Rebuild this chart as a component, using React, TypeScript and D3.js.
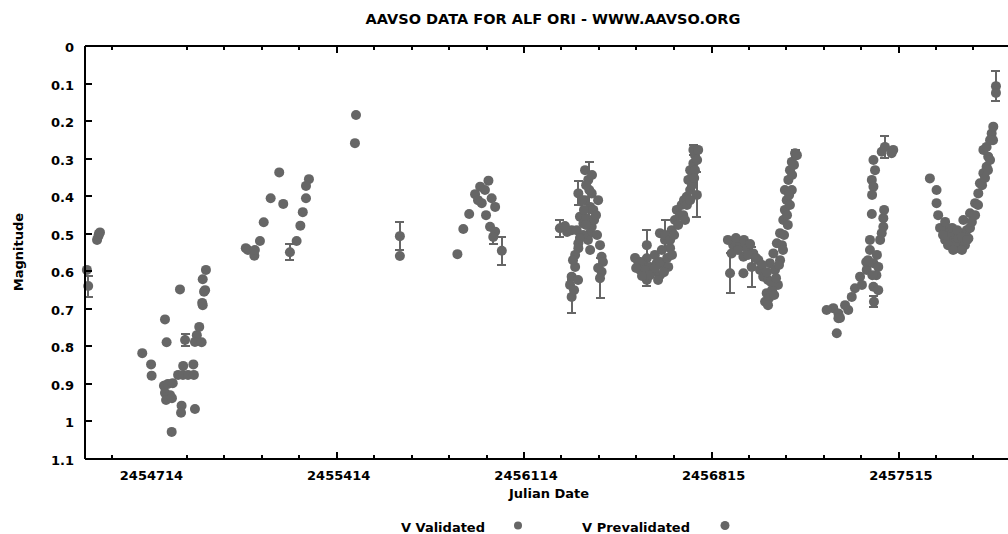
import React from "react";
import * as d3 from "d3";

const W = 1008;
const H = 534;

const titleText = "AAVSO DATA FOR ALF ORI - WWW.AAVSO.ORG";
const xLabel = "Julian Date";
const yLabel = "Magnitude";
const legendLabels = ["V Validated", "V Prevalidated"];

const xDomain = [2454473, 2457923];
const yDomain = [0, 1.1];
const xMajorTicks = [2454714, 2455414, 2456114, 2456815, 2457515];
const xMinorTicks = [
  2454574, 2454854, 2454994, 2455134, 2455274, 2455554, 2455694, 2455834, 2455974,
  2456254, 2456394, 2456534, 2456674, 2456954, 2457094, 2457234, 2457374, 2457654, 2457794,
];
const yTicks = [0, 0.1, 0.2, 0.3, 0.4, 0.5, 0.6, 0.7, 0.8, 0.9, 1, 1.1];

// [JD, magnitude, error]
const validated: [number, number, number][] = [
  [2454480, 0.597, 0], [2454485, 0.64, 0.028], [2454518, 0.517, 0], [2454523, 0.507, 0],
  [2454525, 0.501, 0], [2454529, 0.497, 0],
  [2454687, 0.819, 0], [2454720, 0.849, 0], [2454722, 0.879, 0], [2454772, 0.729, 0],
  [2454778, 0.79, 0], [2454768, 0.906, 0], [2454783, 0.901, 0], [2454801, 0.899, 0],
  [2454772, 0.925, 0], [2454791, 0.931, 0], [2454776, 0.944, 0], [2454798, 0.939, 0],
  [2454797, 1.029, 0], [2454828, 0.649, 0], [2454834, 0.959, 0], [2454832, 0.978, 0],
  [2454847, 0.784, 0.016], [2454840, 0.853, 0], [2454821, 0.877, 0], [2454839, 0.877, 0],
  [2454858, 0.877, 0], [2454880, 0.877, 0], [2454878, 0.849, 0], [2454884, 0.968, 0],
  [2454891, 0.771, 0], [2454884, 0.789, 0], [2454909, 0.79, 0], [2454900, 0.749, 0],
  [2454913, 0.691, 0], [2454911, 0.685, 0], [2454918, 0.655, 0], [2454922, 0.651, 0],
  [2454913, 0.622, 0], [2454925, 0.597, 0],
  [2455074, 0.539, 0], [2455082, 0.544, 0], [2455106, 0.559, 0], [2455108, 0.544, 0],
  [2455127, 0.52, 0], [2455141, 0.47, 0], [2455167, 0.406, 0], [2455199, 0.337, 0],
  [2455214, 0.421, 0], [2455239, 0.55, 0.021], [2455264, 0.52, 0], [2455278, 0.479, 0],
  [2455287, 0.443, 0], [2455299, 0.406, 0], [2455299, 0.373, 0], [2455310, 0.355, 0],
  [2455486, 0.184, 0], [2455482, 0.259, 0], [2455650, 0.507, 0.038], [2455650, 0.56, 0],
  [2455865, 0.555, 0], [2455887, 0.488, 0], [2455909, 0.448, 0], [2455931, 0.395, 0],
  [2455950, 0.375, 0], [2455981, 0.359, 0], [2455956, 0.419, 0], [2455993, 0.406, 0],
  [2456006, 0.429, 0], [2455972, 0.451, 0], [2455987, 0.482, 0], [2456006, 0.495, 0],
  [2455999, 0.509, 0.02], [2456031, 0.546, 0.038], [2455968, 0.384, 0], [2455942, 0.411, 0],
  [2456248, 0.486, 0.022], [2456292, 0.491, 0], [2456311, 0.491, 0], [2456323, 0.455, 0],
  [2456336, 0.473, 0], [2456317, 0.393, 0.032], [2456354, 0.357, 0], [2456367, 0.393, 0],
  [2456361, 0.429, 0], [2456373, 0.437, 0], [2456348, 0.459, 0], [2456367, 0.482, 0],
  [2456361, 0.499, 0], [2456317, 0.526, 0], [2456317, 0.539, 0], [2456305, 0.589, 0],
  [2456292, 0.615, 0], [2456286, 0.637, 0], [2456292, 0.669, 0.044], [2456398, 0.531, 0],
  [2456404, 0.562, 0], [2456404, 0.602, 0], [2456398, 0.619, 0.053], [2456358, 0.384, 0.075],
  [2456342, 0.411, 0], [2456353, 0.517, 0], [2456335, 0.504, 0], [2456361, 0.544, 0],
  [2456376, 0.464, 0], [2456346, 0.371, 0],
  [2456331, 0.411, 0], [2456338, 0.437, 0], [2456346, 0.477, 0], [2456323, 0.512, 0],
  [2456305, 0.557, 0], [2456297, 0.571, 0], [2456383, 0.451, 0], [2456387, 0.504, 0],
  [2456391, 0.411, 0], [2456342, 0.331, 0], [2456368, 0.344, 0], [2456409, 0.576, 0],
  [2456391, 0.592, 0], [2456316, 0.624, 0], [2456301, 0.651, 0], [2456275, 0.496, 0],
  [2456267, 0.48, 0],
  [2456541, 0.575, 0], [2456573, 0.566, 0], [2456560, 0.584, 0], [2456585, 0.589, 0],
  [2456610, 0.579, 0], [2456635, 0.584, 0], [2456653, 0.589, 0], [2456597, 0.602, 0],
  [2456573, 0.624, 0.015], [2456622, 0.499, 0], [2456641, 0.517, 0], [2456660, 0.539, 0],
  [2456666, 0.491, 0], [2456678, 0.464, 0], [2456685, 0.437, 0], [2456703, 0.424, 0],
  [2456722, 0.402, 0], [2456735, 0.384, 0], [2456728, 0.357, 0], [2456735, 0.331, 0],
  [2456747, 0.313, 0], [2456753, 0.291, 0], [2456747, 0.277, 0.013], [2456760, 0.397, 0.06],
  [2456573, 0.531, 0.04], [2456641, 0.504, 0.04], [2456603, 0.557, 0], [2456629, 0.544, 0],
  [2456697, 0.451, 0], [2456712, 0.411, 0], [2456743, 0.344, 0], [2456548, 0.597, 0],
  [2456622, 0.611, 0],
  [2456529, 0.565, 0], [2456548, 0.576, 0], [2456566, 0.597, 0], [2456585, 0.611, 0],
  [2456604, 0.592, 0], [2456622, 0.576, 0], [2456649, 0.565, 0], [2456667, 0.557, 0],
  [2456533, 0.592, 0], [2456555, 0.613, 0], [2456615, 0.624, 0], [2456637, 0.603, 0],
  [2456660, 0.517, 0], [2456675, 0.504, 0], [2456690, 0.477, 0], [2456709, 0.451, 0],
  [2456723, 0.424, 0], [2456742, 0.371, 0], [2456753, 0.331, 0], [2456761, 0.304, 0],
  [2456765, 0.277, 0], [2456735, 0.411, 0], [2456716, 0.464, 0], [2456750, 0.352, 0],
  [2456896, 0.531, 0], [2456921, 0.526, 0], [2456946, 0.539, 0], [2456890, 0.553, 0],
  [2456934, 0.562, 0], [2456971, 0.553, 0], [2456884, 0.606, 0.053], [2456934, 0.606, 0],
  [2456965, 0.589, 0.053], [2456990, 0.571, 0], [2457008, 0.615, 0], [2457021, 0.659, 0],
  [2457015, 0.682, 0], [2457033, 0.579, 0], [2457046, 0.553, 0], [2457059, 0.526, 0],
  [2457071, 0.499, 0], [2457083, 0.464, 0], [2457089, 0.437, 0], [2457096, 0.411, 0],
  [2457089, 0.384, 0], [2457102, 0.357, 0], [2457108, 0.331, 0], [2457115, 0.309, 0],
  [2457127, 0.286, 0.01], [2456996, 0.597, 0], [2457026, 0.624, 0], [2457052, 0.597, 0],
  [2457063, 0.637, 0], [2457041, 0.651, 0], [2457071, 0.571, 0], [2457078, 0.531, 0],
  [2457100, 0.477, 0], [2457108, 0.424, 0], [2457115, 0.384, 0], [2457030, 0.672, 0],
  [2456876, 0.517, 0], [2456906, 0.512, 0], [2456936, 0.517, 0], [2456959, 0.528, 0],
  [2456914, 0.544, 0], [2456951, 0.557, 0], [2456981, 0.565, 0], [2457004, 0.584, 0],
  [2457022, 0.603, 0], [2457037, 0.629, 0], [2457049, 0.664, 0], [2457026, 0.691, 0],
  [2457056, 0.619, 0], [2457067, 0.584, 0], [2457082, 0.544, 0], [2457086, 0.504, 0],
  [2457097, 0.451, 0], [2457105, 0.397, 0], [2457116, 0.344, 0], [2457123, 0.317, 0],
  [2457134, 0.291, 0],
  [2457283, 0.766, 0], [2457270, 0.699, 0], [2457289, 0.713, 0], [2457326, 0.704, 0],
  [2457339, 0.669, 0], [2457351, 0.646, 0], [2457370, 0.615, 0], [2457395, 0.597, 0],
  [2457407, 0.544, 0], [2457420, 0.579, 0], [2457438, 0.589, 0], [2457420, 0.642, 0],
  [2457422, 0.682, 0.015], [2457414, 0.448, 0], [2457457, 0.459, 0], [2457451, 0.499, 0],
  [2457457, 0.482, 0], [2457414, 0.357, 0], [2457426, 0.331, 0], [2457420, 0.375, 0],
  [2457451, 0.282, 0], [2457463, 0.269, 0.03], [2457494, 0.277, 0], [2457488, 0.286, 0],
  [2457393, 0.576, 0], [2457431, 0.611, 0], [2457438, 0.651, 0], [2457295, 0.725, 0],
  [2457245, 0.704, 0], [2457289, 0.726, 0],
  [2457314, 0.691, 0], [2457377, 0.637, 0], [2457400, 0.571, 0], [2457416, 0.611, 0],
  [2457433, 0.557, 0], [2457407, 0.517, 0], [2457460, 0.437, 0], [2457445, 0.517, 0],
  [2457420, 0.304, 0], [2457415, 0.397, 0],
];

const prevalidated: [number, number, number][] = [
  [2457631, 0.353, 0], [2457656, 0.384, 0], [2457656, 0.419, 0], [2457662, 0.451, 0],
  [2457694, 0.491, 0], [2457719, 0.504, 0], [2457744, 0.499, 0], [2457769, 0.491, 0],
  [2457706, 0.517, 0], [2457744, 0.526, 0], [2457731, 0.539, 0], [2457775, 0.513, 0],
  [2457756, 0.464, 0], [2457781, 0.446, 0], [2457800, 0.419, 0], [2457812, 0.393, 0],
  [2457818, 0.366, 0], [2457831, 0.339, 0], [2457843, 0.322, 0], [2457849, 0.295, 0],
  [2457831, 0.277, 0], [2457843, 0.269, 0], [2457862, 0.233, 0], [2457868, 0.215, 0],
  [2457878, 0.107, 0.04], [2457878, 0.125, 0], [2457688, 0.517, 0], [2457725, 0.525, 0],
  [2457762, 0.531, 0], [2457706, 0.496, 0], [2457737, 0.512, 0], [2457856, 0.251, 0],
  [2457669, 0.485, 0], [2457680, 0.504, 0], [2457699, 0.531, 0], [2457714, 0.485, 0],
  [2457733, 0.491, 0], [2457751, 0.509, 0], [2457770, 0.517, 0], [2457781, 0.485, 0],
  [2457788, 0.469, 0], [2457718, 0.544, 0], [2457751, 0.544, 0], [2457688, 0.469, 0],
  [2457800, 0.451, 0], [2457811, 0.424, 0], [2457826, 0.371, 0], [2457837, 0.352, 0],
  [2457848, 0.331, 0], [2457856, 0.304, 0], [2457867, 0.251, 0],
];

const FONT = "'DejaVu Sans', sans-serif";
const GRAY = "#666666";

export default function App() {
  const left = 85, right = 1009, top = 46, bottom = 458.5;
  const x = d3.scaleLinear().domain(xDomain).range([left, right - 1]);
  const y = d3.scaleLinear().domain(yDomain).range([top, bottom]);
  const all = [...validated, ...prevalidated];
  const fmtY = (v: number) => String(+v.toFixed(1));
  const R = 5;

  return (
    <svg width={W} height={H} style={{ position: "absolute", left: 0, top: 0, background: "#fff" }}>
      <rect x={0} y={0} width={W} height={H} fill="#fff" />
      <text x={553} y={24} textAnchor="middle" fontFamily={FONT} fontWeight="bold" fontSize={14.5} fill="#000">
        {titleText}
      </text>
      <g stroke={GRAY} strokeWidth={2} shapeRendering="crispEdges">
        {all.filter((d) => d[2] > 0).map((d, i) => {
          const cx = x(d[0]);
          const y1 = y(d[1] - d[2]);
          const y2 = y(d[1] + d[2]);
          return (
            <g key={"e" + i}>
              <line x1={cx} x2={cx} y1={y1} y2={y2} />
              <line x1={cx - 4.5} x2={cx + 4.5} y1={y1} y2={y1} />
              <line x1={cx - 4.5} x2={cx + 4.5} y1={y2} y2={y2} />
            </g>
          );
        })}
      </g>
      <g fill={GRAY}>
        {validated.map((d, i) => (
          <circle key={"v" + i} cx={x(d[0])} cy={y(d[1])} r={R} />
        ))}
        {prevalidated.map((d, i) => (
          <circle key={"p" + i} cx={x(d[0])} cy={y(d[1])} r={R} />
        ))}
      </g>
      <g stroke="#000" strokeWidth={2} shapeRendering="crispEdges" fill="none">
        <line x1={left} x2={left} y1={top} y2={bottom} />
        <line x1={left} x2={W} y1={top} y2={top} />
        <line x1={left} x2={W} y1={bottom} y2={bottom} />
        {yTicks.slice(1, -1).map((t) => (
          <line key={"yt" + t} x1={left} x2={left + 7} y1={y(t)} y2={y(t)} />
        ))}
        {xMinorTicks.map((t) => (
          <g key={"xm" + t}>
            <line x1={x(t)} x2={x(t)} y1={bottom} y2={bottom - 3.5} />
            <line x1={x(t)} x2={x(t)} y1={top} y2={top + 3.5} />
          </g>
        ))}
        {xMajorTicks.slice(1).map((t) => (
          <g key={"xM" + t}>
            <line x1={x(t)} x2={x(t)} y1={bottom} y2={bottom - 7} />
            <line x1={x(t)} x2={x(t)} y1={top} y2={top + 7} />
          </g>
        ))}
      </g>
      <g fontFamily={FONT} fontWeight="bold" fontSize={13} fill="#000">
        {yTicks.map((t) => (
          <text key={"yl" + t} x={74} y={y(t) + 6} textAnchor="end">
            {fmtY(t)}
          </text>
        ))}
        {xMajorTicks.map((t) => (
          <text key={"xl" + t} x={x(t) + 2} y={479.5} textAnchor="middle">
            {d3.format("d")(t)}
          </text>
        ))}
        <text x={549} y={498} textAnchor="middle">{xLabel}</text>
        <text transform="translate(23,252) rotate(-90)" textAnchor="middle">{yLabel}</text>
        <text x={485} y={531.5} textAnchor="end">{legendLabels[0]}</text>
        <text x={690} y={531.5} textAnchor="end">{legendLabels[1]}</text>
      </g>
      <circle cx={518} cy={525.5} r={4} fill={GRAY} />
      <circle cx={725} cy={525.5} r={4.5} fill={GRAY} />
    </svg>
  );
}
